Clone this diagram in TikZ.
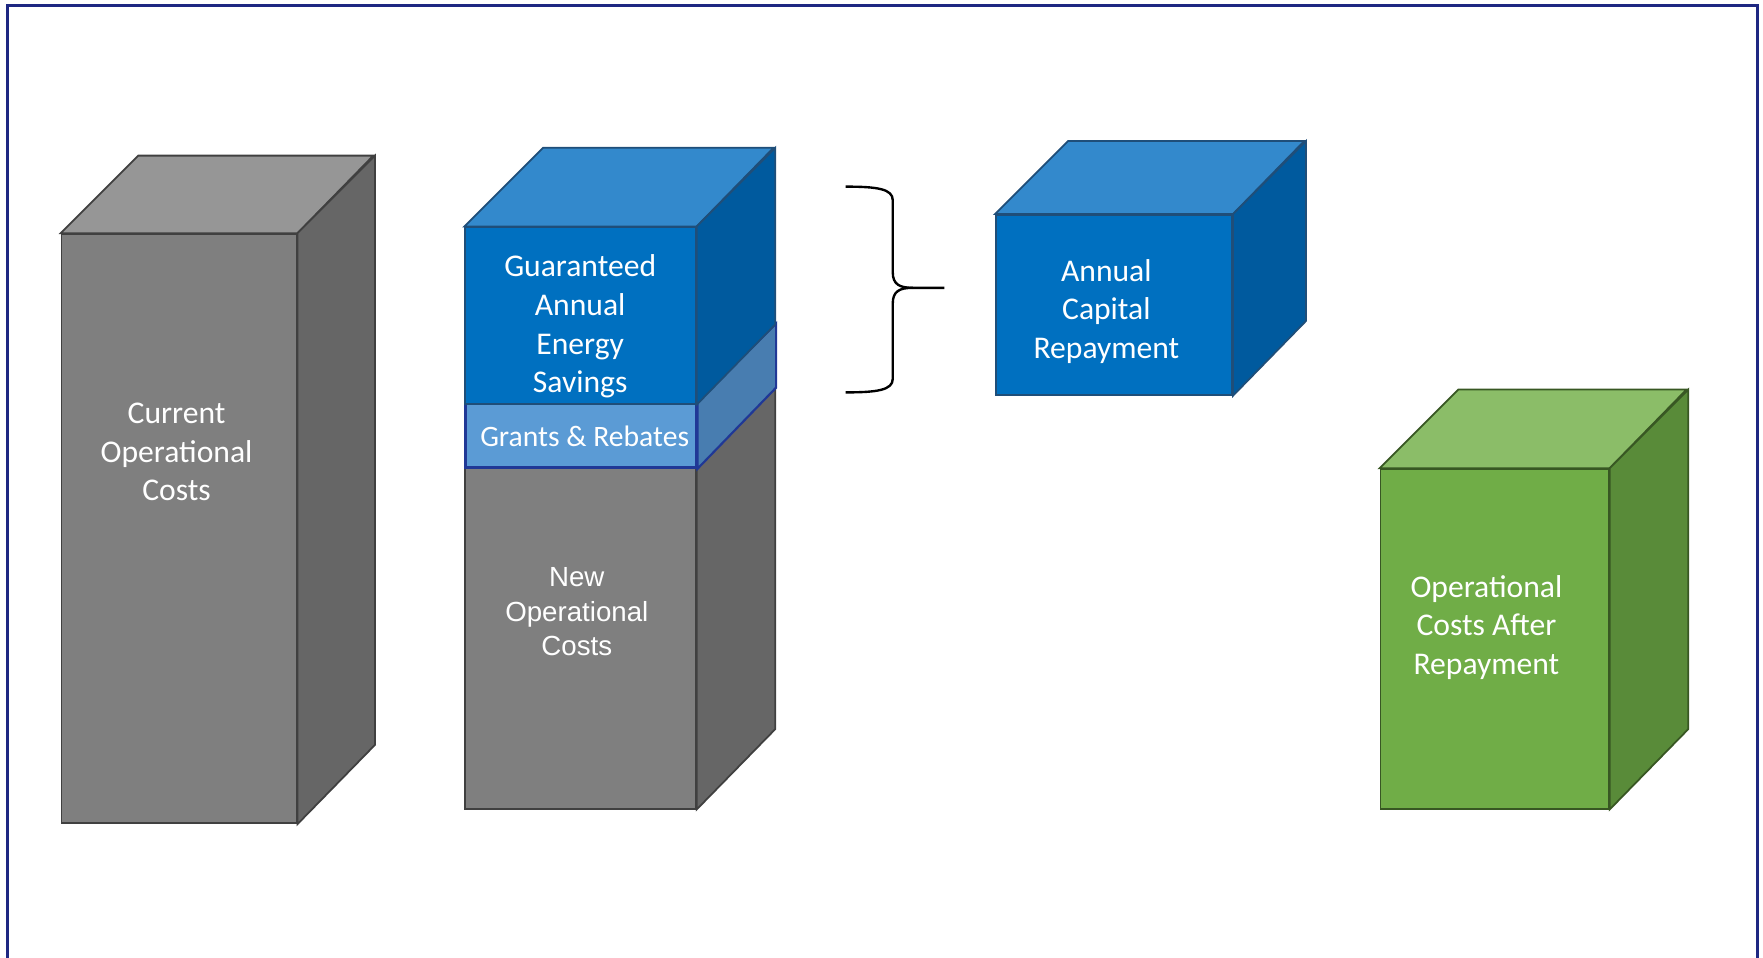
\documentclass[tikz,border=0pt]{standalone}
\usepackage{fontspec}
\setmainfont{Carlito}
\newfontfamily\arialfont{Liberation Sans}
\usepackage{tikz}
\usetikzlibrary{calc}
\definecolor{cgray}{RGB}{127,127,127}
\definecolor{cgraytop}{RGB}{150,150,150}
\definecolor{cgrayside}{RGB}{102,102,102}
\definecolor{cgrayline}{RGB}{64,64,64}
\definecolor{cblue}{RGB}{0,112,192}
\definecolor{cbluetop}{RGB}{51,137,204}
\definecolor{cblueside}{RGB}{0,90,158}
\definecolor{cblueline}{RGB}{31,78,121}
\definecolor{clight}{RGB}{91,155,213}
\definecolor{clightside}{RGB}{72,125,176}
\definecolor{clightline}{RGB}{32,56,150}
\definecolor{cgreen}{RGB}{112,173,71}
\definecolor{cgreentop}{RGB}{139,189,104}
\definecolor{cgreenside}{RGB}{89,139,57}
\definecolor{cgreenline}{RGB}{56,87,35}
\definecolor{cframe}{RGB}{30,40,130}
\tikzset{
  face/.style={draw, line width=0.45pt, inner sep=0pt, anchor=south west},
  boxtext/.style={text=white, align=center, font=\fontsize{8}{9.8}\selectfont}
}

\begin{document}
\begin{tikzpicture}
\useasboundingbox (0,0) rectangle (15.68,8.52);
% Frame
\draw[cframe, line width=0.8pt] (0.07,-0.1) -- (0.07,8.47) -- (15.63,8.47) -- (15.63,-0.1);

% Current costs
\node[face, draw=cgrayline, fill=cgray, minimum width=2.09cm, minimum height=5.24cm] (cur) at (0.54,1.19) {};
\draw[cgrayline, line width=0.45pt, fill=cgraytop] (cur.north west) -- ++(0.69,0.69) -- ++(2.09,0) -- (cur.north east) -- cycle;
\draw[cgrayline, line width=0.45pt, fill=cgrayside] (cur.north east) -- ++(0.69,0.69) -- ++(0,-5.24) -- (cur.south east) -- cycle;
\node[boxtext] (curtxt) at (1.57,4.50) {Current\\Operational\\Costs};

% New costs, grants, savings
\node[face, draw=cgrayline, fill=cgray, minimum width=2.05cm, minimum height=3.03cm] (new) at (4.13,1.32) {};
\draw[cgrayline, line width=0.45pt, fill=cgrayside] (new.north east) -- ++(0.7,0.7) -- ++(0,-3.03) -- (new.south east) -- cycle;
\node[face, draw=clightline, line width=0.65pt, fill=clight, minimum width=2.05cm, minimum height=0.57cm] (grt) at (4.13,4.35) {};
\draw[clightline, line width=0.55pt, fill=clightside] (grt.north east) -- ++(0.7,0.7) -- ++(0,-0.57) -- (grt.south east) -- cycle;
\node[face, draw=cblueline, fill=cblue, minimum width=2.05cm, minimum height=1.57cm] (sav) at (4.13,4.92) {};
\draw[cblueline, line width=0.45pt, fill=cbluetop] (sav.north west) -- ++(0.7,0.7) -- ++(2.05,0) -- (sav.north east) -- cycle;
\draw[cblueline, line width=0.45pt, fill=cblueside] (sav.north east) -- ++(0.7,0.7) -- ++(0,-1.57) -- (sav.south east) -- cycle;
\node[boxtext] (savtxt) at (5.16,5.615) {Guaranteed\\Annual\\Energy\\Savings};
\node[boxtext, font=\fontsize{7.5}{9}\selectfont] (grttxt) at (5.20,4.635) {Grants \& Rebates};
\node[boxtext, font=\arialfont\fontsize{7}{8.65}\selectfont] (newtxt) at (5.13,3.08) {New\\Operational\\Costs};

% Brace
\draw[black, line width=0.6pt] (7.52,6.86) .. controls (7.80,6.86) and (7.94,6.84) .. (7.94,6.74) -- (7.94,6.10)
  .. controls (7.94,5.99) and (8.00,5.96) .. (8.12,5.96) -- (8.40,5.96);
\draw[black, line width=0.6pt] (8.12,5.96) .. controls (8.00,5.96) and (7.94,5.93) .. (7.94,5.82) -- (7.94,5.15)
  .. controls (7.94,5.05) and (7.80,5.03) .. (7.52,5.03);

% Capital repayment
\node[face, draw=cblueline, fill=cblue, minimum width=2.10cm, minimum height=1.60cm] (cap) at (8.85,5.00) {};
\draw[cblueline, line width=0.45pt, fill=cbluetop] (cap.north west) -- ++(0.65,0.65) -- ++(2.10,0) -- (cap.north east) -- cycle;
\draw[cblueline, line width=0.45pt, fill=cblueside] (cap.north east) -- ++(0.65,0.65) -- ++(0,-1.60) -- (cap.south east) -- cycle;
\node[boxtext] (captxt) at (9.84,5.75) {Annual\\Capital\\Repayment};

% After repayment
\node[face, draw=cgreenline, fill=cgreen, minimum width=2.03cm, minimum height=3.02cm] (aft) at (12.27,1.32) {};
\draw[cgreenline, line width=0.45pt, fill=cgreentop] (aft.north west) -- ++(0.70,0.70) -- ++(2.03,0) -- (aft.north east) -- cycle;
\draw[cgreenline, line width=0.45pt, fill=cgreenside] (aft.north east) -- ++(0.70,0.70) -- ++(0,-3.02) -- (aft.south east) -- cycle;
\node[boxtext] (afttxt) at (13.22,2.94) {Operational\\Costs After\\Repayment};
\end{tikzpicture}
\end{document}
